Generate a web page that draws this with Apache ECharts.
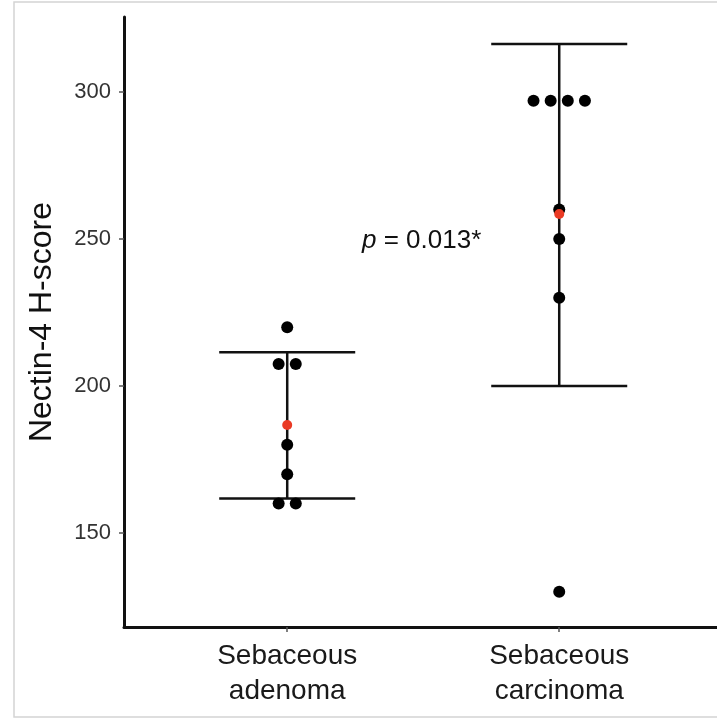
<!DOCTYPE html>
<html>
<head>
<meta charset="utf-8">
<script src="https://cdn.jsdelivr.net/npm/echarts@6/dist/echarts.min.js"></script>
<style>
    html, body { margin: 0; padding: 0; background: #fff; }
    #main { width: 717px; height: 721px; }
</style>
</head>
<body>
<div id="main"></div>
<script>
// 分组
const groupNames = ['Sebaceous\nadenoma', 'Sebaceous\ncarcinoma'];
const groupPos = [1, 2];

// 每个病例的 H-score
const adenomaScores = [220, 207.5, 207.5, 180, 170, 160, 160];
const carcinomaScores = [297, 297, 297, 297, 260, 250, 230, 130];

// 均值 + 误差线
const meanScores = [186.7, 258.5];
const lowScores = [161.7, 200];
const highScores = [211.5, 316.3];

// y 轴刻度
const yTicks = [150, 200, 250, 300];
const pValue = '0.013*';

{
    const ink = '#111';
    const jitterStep = 0.063;

    // 相同的值左右摊开
    function spread(values, x) {
        let out = [];
        values.forEach(function (v, i) {
            let same = values.filter(function (w) { return w === v; });
            let k = values.slice(0, i).filter(function (w) { return w === v; }).length;
            let off = (k - (same.length - 1) / 2) * jitterStep;
            out.push([x + off, v]);
        });
        return out;
    }

    let dots = spread(adenomaScores, groupPos[0]).concat(spread(carcinomaScores, groupPos[1]));
    let means = groupPos.map(function (x, i) { return [x, meanScores[i]]; });
    let bars = groupPos.map(function (x, i) { return [x, lowScores[i], highScores[i]]; });

    let option = {
        animation: false,
        backgroundColor: '#fff',
        grid: { left: 124, right: 0, top: 17, bottom: 94, containLabel: false },
        xAxis: {
            type: 'value',
            min: 0.4,
            max: 2.58,
            splitLine: { show: false },
            axisLine: { show: true, onZero: false, lineStyle: { color: ink, width: 3 } },
            axisTick: { show: true, customValues: groupPos, length: 5, lineStyle: { color: '#555', width: 1.5 } },
            axisLabel: {
                customValues: groupPos,
                formatter: function (v) { return groupNames[groupPos.indexOf(v)] || ''; },
                fontFamily: 'Liberation Sans',
                fontSize: 28,
                lineHeight: 35,
                color: '#1a1a1a',
                margin: 12
            }
        },
        yAxis: {
            type: 'value',
            min: 118,
            max: 325.5,
            name: 'Nectin-4 H-score',
            nameLocation: 'middle',
            nameGap: 66,
            nameTextStyle: { fontFamily: 'Liberation Sans', fontSize: 32, color: ink },
            splitLine: { show: false },
            axisLine: { show: true, onZero: false, lineStyle: { color: ink, width: 3 } },
            axisTick: { show: true, customValues: yTicks, length: 5, lineStyle: { color: '#555', width: 1.5 } },
            axisLabel: {
                customValues: yTicks,
                fontFamily: 'Liberation Sans',
                fontSize: 22,
                color: '#333',
                margin: 13
            }
        },
        graphic: [{
            // 外框
            type: 'rect',
            shape: { x: 14, y: 2, width: 720, height: 715 },
            style: { fill: 'none', stroke: '#d4d4d4', lineWidth: 1.5 },
            silent: true
        }, {
            type: 'text',
            left: 362,
            top: 228,
            style: {
                text: '{p|p} = ' + pValue,
                fontFamily: 'Liberation Sans',
                fontSize: 26,
                fill: ink,
                rich: { p: { fontStyle: 'italic', fontFamily: 'Liberation Sans', fontSize: 26 } }
            }
        }],
        series: [{
            // 误差线
            type: 'custom',
            data: bars,
            z: 1,
            renderItem: function (params, api) {
                let top = api.coord([api.value(0), api.value(2)]);
                let bot = api.coord([api.value(0), api.value(1)]);
                let half = api.size([0.25, 0])[0];
                let st = { stroke: ink, lineWidth: 2.5 };
                return {
                    type: 'group',
                    children: [
                        { type: 'line', shape: { x1: top[0], y1: top[1], x2: bot[0], y2: bot[1] }, style: st },
                        { type: 'line', shape: { x1: top[0] - half, y1: top[1], x2: top[0] + half, y2: top[1] }, style: st },
                        { type: 'line', shape: { x1: bot[0] - half, y1: bot[1], x2: bot[0] + half, y2: bot[1] }, style: st }
                    ]
                };
            }
        }, {
            type: 'scatter',
            data: dots,
            z: 2,
            symbolSize: 12,
            itemStyle: { color: '#000', opacity: 1 }
        }, {
            // 均值
            type: 'scatter',
            data: means,
            z: 3,
            symbolSize: 10,
            itemStyle: { color: '#ea3a24', opacity: 1 }
        }]
    };

    window.echarts.init(document.getElementById('main')).setOption(option);
}
</script>
</body>
</html>
